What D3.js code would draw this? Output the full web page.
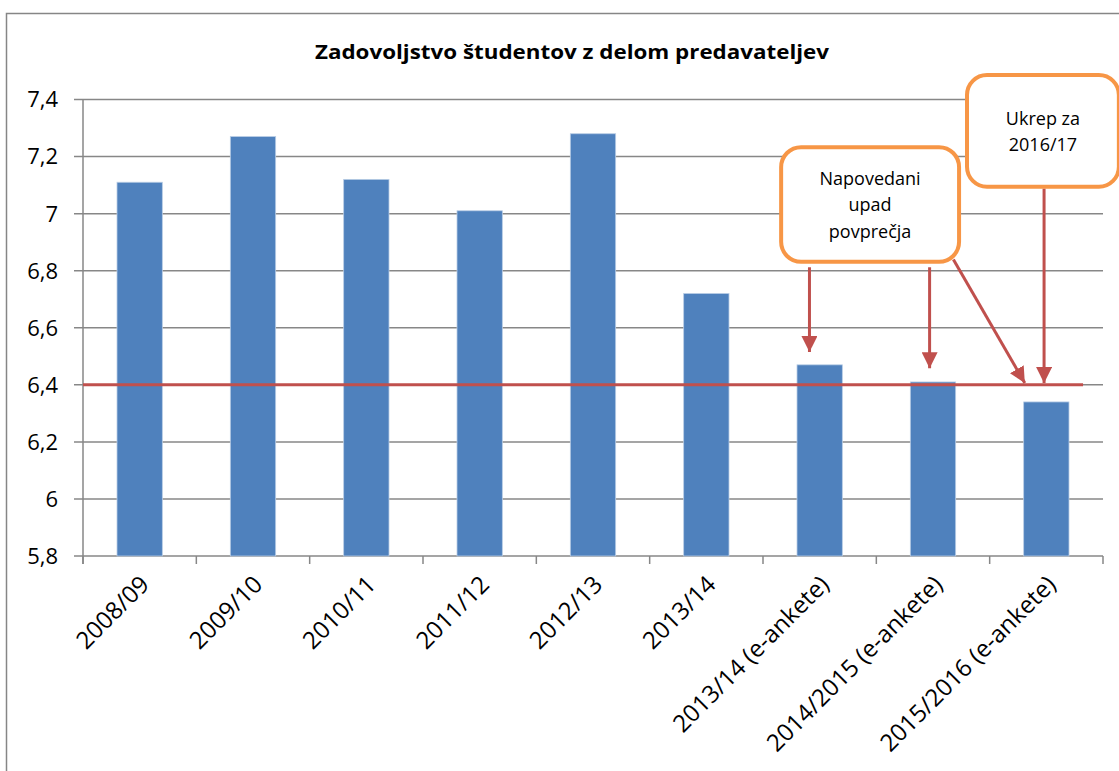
<!DOCTYPE html>
<html>
<head>
<meta charset="utf-8">
<script src="https://cdn.jsdelivr.net/npm/d3@7"></script>
<style>
  body { margin: 0; background: #fff; }
  text { font-family: "Open Sans", "Noto Sans", sans-serif; fill: #000; }
</style>
</head>
<body>
<script>
// Chart data
var categories = ["2008/09", "2009/10", "2010/11", "2011/12", "2012/13", "2013/14",
                  "2013/14 (e-ankete)", "2014/2015 (e-ankete)", "2015/2016 (e-ankete)"];
var values = [7.11, 7.27, 7.12, 7.01, 7.28, 6.72, 6.47, 6.41, 6.34];
var yTicks = [5.8, 6, 6.2, 6.4, 6.6, 6.8, 7, 7.2, 7.4];
var threshold = 6.4;
var title = "Zadovoljstvo študentov z delom predavateljev";

// Callouts, positioned in category units (x) and value units (y)
var callouts = [
  {lines: ["Napovedani", "upad", "povprečja"], x0: 6.16, x1: 7.73, y0: 7.233, y1: 6.831},
  {lines: ["Ukrep za", "2016/17"], x0: 7.80, x1: 9.14, y0: 7.486, y1: 7.094}
];
var arrows = [
  {x1: 6.41, y1: 6.812, x2: 6.41, y2: 6.515},
  {x1: 7.47, y1: 6.812, x2: 7.47, y2: 6.458},
  {x1: 7.68, y1: 6.839, x2: 8.31, y2: 6.406},
  {x1: 8.48, y1: 7.088, x2: 8.48, y2: 6.406}
];

var W = 1119, H = 771;
var margin = {top: 99.5, right: 16, bottom: 215, left: 83},
    width = W - margin.left - margin.right,
    height = H - margin.top - margin.bottom;

var svg = d3.select("body").append("svg")
            .attr("width", W)
            .attr("height", H);

// chart frame
svg.append("rect")
   .attr("x", 6.5).attr("y", 13.5)
   .attr("width", 1125).attr("height", 800)
   .attr("fill", "none")
   .attr("stroke", "#868686")
   .attr("stroke-width", 1.5);

svg.append("text")
   .attr("x", 572).attr("y", 59)
   .attr("text-anchor", "middle")
   .style("font-size", "19px")
   .style("font-weight", "bold")
   .attr("textLength", 514)
   .attr("lengthAdjust", "spacingAndGlyphs")
   .text(title);

var g = svg.append("g")
           .attr("transform", "translate(" + margin.left + "," + margin.top + ")");

var xScale = d3.scaleBand().domain(categories).range([0, width]).paddingInner(0.6).paddingOuter(0.3);
var xUnit = d3.scaleLinear().domain([0, categories.length]).range([0, width]);
var yScale = d3.scaleLinear().domain([5.8, 7.4]).range([height, 0]);

// grid
g.selectAll(".grid")
 .data(yTicks)
 .enter().append("line")
 .attr("class", "grid")
 .attr("x1", -9).attr("x2", width)
 .attr("y1", d => yScale(d)).attr("y2", d => yScale(d))
 .attr("stroke", "#878787")
 .attr("stroke-width", 1.5);

g.selectAll(".ylab")
 .data(yTicks)
 .enter().append("text")
 .attr("class", "ylab")
 .attr("x", -25)
 .attr("y", d => yScale(d))
 .attr("dy", "0.36em")
 .attr("text-anchor", "end")
 .style("font-size", "22px")
 .text(d => String(d).replace(".", ","));

// y axis line
g.append("line")
 .attr("x1", 0).attr("x2", 0)
 .attr("y1", 0).attr("y2", height + 8)
 .attr("stroke", "#878787")
 .attr("stroke-width", 1.5);

// x ticks
g.selectAll(".xtick")
 .data(d3.range(categories.length + 1))
 .enter().append("line")
 .attr("class", "xtick")
 .attr("x1", d => xUnit(d)).attr("x2", d => xUnit(d))
 .attr("y1", height).attr("y2", height + 8)
 .attr("stroke", "#878787")
 .attr("stroke-width", 1.5);

// bars
g.selectAll(".bar")
 .data(values)
 .enter().append("rect")
 .attr("class", "bar")
 .attr("x", (d, i) => xScale(categories[i]))
 .attr("width", xScale.bandwidth())
 .attr("y", d => yScale(d))
 .attr("height", d => height - yScale(d))
 .attr("fill", "#4F81BD")
 .attr("stroke", "#B9CDE5")
 .attr("stroke-width", 0.8);

// x labels
g.selectAll(".xlab")
 .data(categories)
 .enter().append("text")
 .attr("class", "xlab")
 .attr("text-anchor", "end")
 .attr("transform", d => "translate(" + (xScale(d) + xScale.bandwidth() / 2 + 5) + "," + (height + 24) + ") rotate(-45)")
 .attr("dy", "0.35em")
 .style("font-size", "24px")
 .text(d => d);

// threshold line
g.append("line")
 .attr("x1", 0).attr("x2", xUnit(8.824))
 .attr("y1", yScale(threshold)).attr("y2", yScale(threshold))
 .attr("stroke", "#C0504D")
 .attr("stroke-width", 3);

// arrows
svg.append("defs").append("marker")
   .attr("id", "head")
   .attr("viewBox", "0 0 16 16")
   .attr("refX", 16).attr("refY", 8)
   .attr("markerUnits", "userSpaceOnUse")
   .attr("markerWidth", 16).attr("markerHeight", 16)
   .attr("orient", "auto")
   .append("path")
   .attr("d", "M0,0 L16,8 L0,16 Z")
   .attr("fill", "#C0504D");

g.selectAll(".arrow")
 .data(arrows)
 .enter().append("line")
 .attr("class", "arrow")
 .attr("x1", d => xUnit(d.x1)).attr("y1", d => yScale(d.y1))
 .attr("x2", d => xUnit(d.x2)).attr("y2", d => yScale(d.y2))
 .attr("stroke", "#C0504D")
 .attr("stroke-width", 3)
 .attr("marker-end", "url(#head)");

// callout boxes
var box = g.selectAll(".callout")
           .data(callouts)
           .enter().append("g")
           .attr("class", "callout");

box.append("rect")
   .attr("x", d => xUnit(d.x0)).attr("y", d => yScale(d.y0))
   .attr("width", d => xUnit(d.x1) - xUnit(d.x0))
   .attr("height", d => yScale(d.y1) - yScale(d.y0))
   .attr("rx", 20).attr("ry", 20)
   .attr("fill", "#fff")
   .attr("stroke", "#F79646")
   .attr("stroke-width", 4);

box.each(function(d) {
  var cx = (xUnit(d.x0) + xUnit(d.x1)) / 2;
  var cy = (yScale(d.y0) + yScale(d.y1)) / 2;
  var n = d.lines.length;
  d3.select(this).selectAll("text")
    .data(d.lines)
    .enter().append("text")
    .attr("x", cx)
    .attr("y", (t, i) => cy + (i - (n - 1) / 2) * 26.5 + 7)
    .attr("text-anchor", "middle")
    .style("font-size", "18px")
    .text(t => t);
});
</script>
</body>
</html>
